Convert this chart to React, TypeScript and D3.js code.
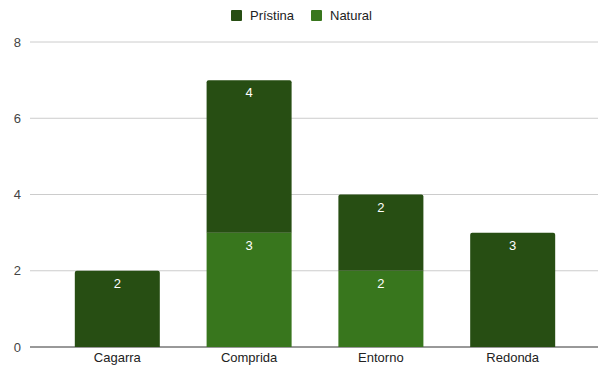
import React from "react";
import * as d3 from "d3";

const categories = ["Cagarra", "Comprida", "Entorno", "Redonda"];
const natural = [0, 3, 2, 0];
const pristina = [2, 4, 2, 3];
const yTicks = [0, 2, 4, 6, 8];
const seriesNames = ["Prístina", "Natural"];

const W = 606, H = 367;
const colors = { pristina: "#274e13", natural: "#38761d" };

export default function App() {
  const x = d3.scaleBand().domain(categories).range([30, 600]).paddingInner(0.355).paddingOuter(0.34);
  const y = d3.scaleLinear().domain([0, 8]).range([347, 42]);
  const font = "Arial, 'Liberation Sans', sans-serif";
  const r = 2;
  const roundTop = (x0: number, y0: number, w: number, h: number) =>
    `M${x0},${y0 + h}V${y0 + r}Q${x0},${y0} ${x0 + r},${y0}H${x0 + w - r}Q${x0 + w},${y0} ${x0 + w},${y0 + r}V${y0 + h}Z`;
  return (
    <svg width={W} height={H} style={{ position: "absolute", left: 0, top: 0, background: "#fff" }}>
      {yTicks.map((t) => (
        <g key={t}>
          <line x1={30} x2={598} y1={y(t)} y2={y(t)} stroke={t === 0 ? "#333" : "#ccc"} strokeWidth={1} />
          <text x={21} y={y(t) + 4.5} textAnchor="end" fontSize={13} fill="#444" fontFamily={font}>{t}</text>
        </g>
      ))}
      {categories.map((c, i) => {
        const bx = x(c)!;
        const bw = x.bandwidth();
        const n = natural[i], p = pristina[i];
        const els: any[] = [];
        if (n > 0) {
          const top = y(n);
          els.push(
            p > 0 ? (
              <rect key="n" x={bx} y={top} width={bw} height={y(0) - top} fill={colors.natural} />
            ) : (
              <path key="n" d={roundTop(bx, top, bw, y(0) - top)} fill={colors.natural} />
            )
          );
          els.push(
            <text key="nt" x={bx + bw / 2} y={top + 17} textAnchor="middle" fontSize={13} fill="#fff" fontFamily={font}>{n}</text>
          );
        }
        if (p > 0) {
          const top = y(n + p);
          const bot = y(n);
          els.push(<path key="p" d={roundTop(bx, top, bw, bot - top)} fill={colors.pristina} />);
          els.push(
            <text key="pt" x={bx + bw / 2} y={top + 17} textAnchor="middle" fontSize={13} fill="#fff" fontFamily={font}>{p}</text>
          );
        }
        return (
          <g key={c}>
            {els}
            <text x={bx + bw / 2} y={362} textAnchor="middle" fontSize={13} fill="#222" fontFamily={font}>{c}</text>
          </g>
        );
      })}
      <g>
        <rect x={231} y={10} width={11} height={11} rx={1} fill={colors.pristina} />
        <text x={250} y={20} fontSize={13} fill="#222" fontFamily={font}>{seriesNames[0]}</text>
        <rect x={311} y={10} width={11} height={11} rx={1} fill={colors.natural} />
        <text x={330} y={20} fontSize={13} fill="#222" fontFamily={font}>{seriesNames[1]}</text>
      </g>
    </svg>
  );
}
